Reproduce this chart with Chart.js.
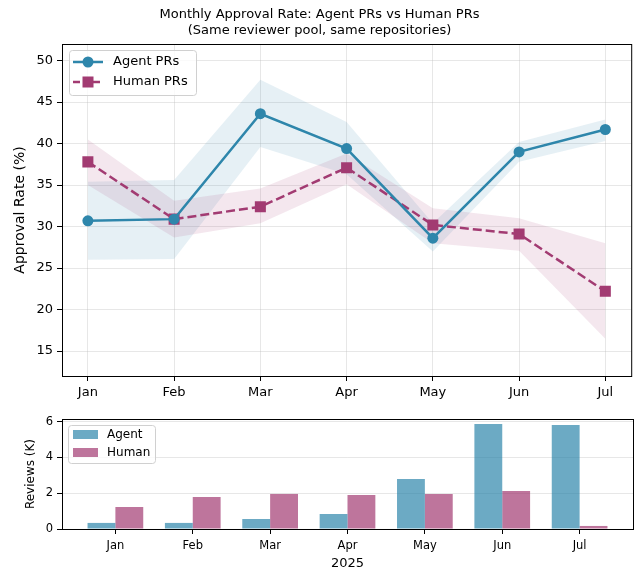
<!DOCTYPE html>
<html>
<head>
<meta charset="utf-8">
<script src="https://cdn.jsdelivr.net/npm/chart.js@4"></script>
<style>
  body { margin: 0; background: #fff; }
  #wrap { position: relative; width: 639px; height: 571px; }
  #top { position: absolute; left: 0; top: 0; }
  #bottom { position: absolute; left: 0; top: 400px; }
</style>
</head>
<body>
<div id="wrap">
  <canvas id="top" width="639" height="400"></canvas>
  <canvas id="bottom" width="639" height="171"></canvas>
</div>
<script>
// data
const months = ["Jan", "Feb", "Mar", "Apr", "May", "Jun", "Jul"];
const agentRate = [30.7, 30.9, 43.6, 39.4, 28.6, 39.0, 41.7];
const agentLow = [26.0, 26.1, 39.6, 36.3, 27.0, 37.8, 40.3];
const agentHigh = [35.4, 35.6, 47.7, 42.6, 30.4, 40.2, 42.9];
const humanRate = [37.8, 30.9, 32.4, 37.1, 30.2, 29.1, 22.2];
const humanLow = [35.0, 28.7, 30.4, 35.1, 28.0, 27.1, 16.5];
const humanHigh = [40.5, 33.1, 34.6, 38.8, 32.2, 31.0, 28.0];
const rateTicks = [15, 20, 25, 30, 35, 40, 45, 50];

const agentReviews = [0.34, 0.34, 0.56, 0.84, 2.79, 5.87, 5.81];
const humanReviews = [1.23, 1.79, 1.96, 1.90, 1.96, 2.12, 0.17];
const reviewTicks = [0, 2, 4, 6];

const AGENT = "#2E86AB";
const HUMAN = "#A23B72";
const FONT = "'DejaVu Sans', sans-serif";
const GRID = "rgba(176,176,176,0.3)";

const pts = (arr) => arr.map((v, i) => ({ x: i, y: v }));

// box around the plot area + optional text/legend drawing
const frame = {
  id: "frame",
  afterDraw(chart, args, opts) {
    const { ctx, chartArea: a } = chart;
    ctx.save();
    ctx.strokeStyle = "#000";
    ctx.lineWidth = 1;
    ctx.strokeRect(a.left + 0.5, a.top + 0.5, a.right - a.left, a.bottom - a.top);
    ctx.restore();
    if (opts.draw) opts.draw(ctx, a);
  }
};

function legendBox(ctx, x, y, w, h) {
  ctx.save();
  ctx.fillStyle = "rgba(255,255,255,0.8)";
  ctx.strokeStyle = "#d0d0d0";
  ctx.lineWidth = 1;
  ctx.beginPath();
  ctx.roundRect(x + 0.5, y + 0.5, w, h, 3);
  ctx.fill();
  ctx.stroke();
  ctx.restore();
}

new Chart(document.getElementById("top"), {
  type: "line",
  data: {
    datasets: [
      { label: "Agent PRs", data: pts(agentRate), borderColor: AGENT, backgroundColor: AGENT,
        borderWidth: 2.5, pointRadius: 5.5, pointStyle: "circle", pointBorderWidth: 0, order: 0, fill: false },
      { label: "Human PRs", data: pts(humanRate), borderColor: HUMAN, backgroundColor: HUMAN,
        borderWidth: 2.5, borderDash: [9, 4], pointRadius: 7.8, pointStyle: "rect", pointBorderWidth: 0, order: 1, fill: false },
      { label: "agentLow", data: pts(agentLow), borderWidth: 0, pointRadius: 0, fill: false, order: 3 },
      { label: "agentHigh", data: pts(agentHigh), borderWidth: 0, pointRadius: 0, order: 3,
        fill: { target: 2 }, backgroundColor: "rgba(46,134,171,0.12)" },
      { label: "humanLow", data: pts(humanLow), borderWidth: 0, pointRadius: 0, fill: false, order: 2 },
      { label: "humanHigh", data: pts(humanHigh), borderWidth: 0, pointRadius: 0, order: 2,
        fill: { target: 4 }, backgroundColor: "rgba(162,59,114,0.12)" }
    ]
  },
  options: {
    responsive: false,
    animation: false,
    layout: { padding: { top: 44, right: 6, bottom: 0, left: 0 } },
    plugins: {
      legend: { display: false },
      tooltip: { enabled: false },
      frame: {
        draw(ctx, a) {
          ctx.save();
          ctx.fillStyle = "#000";
          ctx.textAlign = "center";
          ctx.textBaseline = "middle";
          ctx.font = "13px " + FONT;
          ctx.fillText("Monthly Approval Rate: Agent PRs vs Human PRs", 319.5, 15);
          ctx.fillText("(Same reviewer pool, same repositories)", 319.5, 31);
          // legend
          legendBox(ctx, 69, 50, 127, 45);
          const rows = [
            { label: "Agent PRs", color: AGENT, dash: [], y: 62 },
            { label: "Human PRs", color: HUMAN, dash: [7, 3], y: 82 }
          ];
          rows.forEach((r, i) => {
            ctx.strokeStyle = r.color;
            ctx.fillStyle = r.color;
            ctx.lineWidth = 2.5;
            ctx.setLineDash(r.dash);
            ctx.beginPath();
            ctx.moveTo(73, r.y);
            ctx.lineTo(103, r.y);
            ctx.stroke();
            ctx.setLineDash([]);
            if (i === 0) {
              ctx.beginPath();
              ctx.arc(88, r.y, 5.5, 0, Math.PI * 2);
              ctx.fill();
            } else {
              ctx.fillRect(82.5, r.y - 5.5, 11, 11);
            }
            ctx.fillStyle = "#000";
            ctx.textAlign = "left";
            ctx.font = "13px " + FONT;
            ctx.fillText(r.label, 113, r.y);
          });
          ctx.restore();
        }
      }
    },
    scales: {
      x: {
        type: "linear",
        min: -0.3,
        max: 6.3,
        afterBuildTicks: (s) => { s.ticks = months.map((m, i) => ({ value: i })); },
        afterFit: (s) => { s.height = 24; },
        ticks: { callback: (v) => months[v], color: "#000", font: { family: FONT, size: 13 }, padding: 4, maxRotation: 0 },
        grid: { color: GRID, lineWidth: 1, tickColor: "#000", tickLength: 5 },
        border: { display: false }
      },
      y: {
        min: 12,
        max: 52,
        afterBuildTicks: (s) => { s.ticks = rateTicks.map((v) => ({ value: v })); },
        afterFit: (s) => { s.width = 62; },
        ticks: { color: "#000", font: { family: FONT, size: 13 }, padding: 4 },
        grid: { color: GRID, lineWidth: 1, tickColor: "#000", tickLength: 5 },
        border: { display: false },
        title: { display: true, text: "Approval Rate (%)", color: "#000", font: { family: FONT, size: 14 }, padding: { top: 12, bottom: 0 } }
      }
    }
  },
  plugins: [frame]
});

new Chart(document.getElementById("bottom"), {
  type: "bar",
  data: {
    datasets: [
      { label: "Agent", data: pts(agentReviews), backgroundColor: "rgba(46,134,171,0.7)", borderWidth: 0,
        categoryPercentage: 0.72, barPercentage: 1.0 },
      { label: "Human", data: pts(humanReviews), backgroundColor: "rgba(162,59,114,0.7)", borderWidth: 0,
        categoryPercentage: 0.72, barPercentage: 1.0 }
    ]
  },
  options: {
    responsive: false,
    animation: false,
    layout: { padding: { top: 19, right: 6, bottom: 0, left: 0 } },
    plugins: {
      legend: { display: false },
      tooltip: { enabled: false },
      frame: {
        draw(ctx, a) {
          ctx.save();
          legendBox(ctx, 68, 25, 87, 38);
          const rows = [
            { label: "Agent", color: "rgba(46,134,171,0.7)", y: 34.5 },
            { label: "Human", color: "rgba(162,59,114,0.7)", y: 52.5 }
          ];
          rows.forEach((r) => {
            ctx.fillStyle = r.color;
            ctx.fillRect(73, r.y - 4.5, 25, 9);
            ctx.fillStyle = "#000";
            ctx.textAlign = "left";
            ctx.textBaseline = "middle";
            ctx.font = "12px " + FONT;
            ctx.fillText(r.label, 107, r.y);
          });
          ctx.restore();
        }
      }
    },
    scales: {
      x: {
        type: "linear",
        min: -0.69,
        max: 6.69,
        offset: false,
        afterBuildTicks: (s) => { s.ticks = months.map((m, i) => ({ value: i })); },
        afterFit: (s) => { s.height = 42; },
        ticks: { callback: (v) => months[v], color: "#000", font: { family: FONT, size: 11.5 }, padding: 5, maxRotation: 0 },
        grid: { display: true, offset: false, drawOnChartArea: false, tickColor: "#000", tickLength: 5 },
        border: { display: false },
        title: { display: true, text: "2025", color: "#000", font: { family: FONT, size: 13 }, padding: { top: 0, bottom: 0 } }
      },
      y: {
        min: 0,
        max: 6.15,
        afterBuildTicks: (s) => { s.ticks = reviewTicks.map((v) => ({ value: v })); },
        afterFit: (s) => { s.width = 62; },
        ticks: { color: "#000", font: { family: FONT, size: 11.5 }, padding: 4 },
        grid: { color: GRID, lineWidth: 1, tickColor: "#000", tickLength: 5 },
        border: { display: false },
        title: { display: true, text: "Reviews (K)", color: "#000", font: { family: FONT, size: 12 }, padding: { top: 24, bottom: 0 } }
      }
    }
  },
  plugins: [frame]
});
</script>
</body>
</html>
